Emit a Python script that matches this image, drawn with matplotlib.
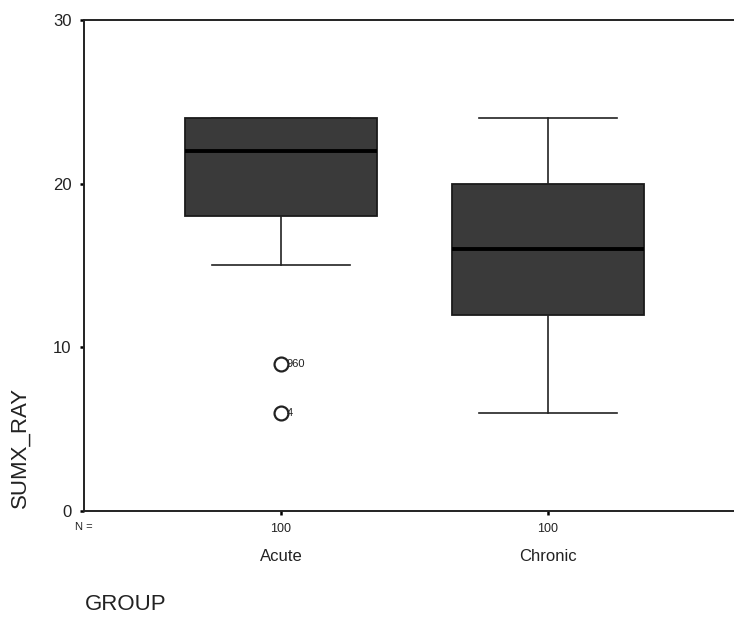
import matplotlib
matplotlib.use('Agg')
import matplotlib.pyplot as plt
import matplotlib.transforms as mtransforms

plt.rcParams['font.family'] = ['Liberation Sans', 'DejaVu Sans']

# values
groups = ['Acute', 'Chronic']
n_counts = [100, 100]
whislo = [15, 6]
q1 = [18, 12]
medians = [22, 16]
q3 = [24, 20]
whishi = [24, 24]
outliers = [[9, 6], []]
outlier_labels = [['960', '4'], []]

stats = []
for i, g in enumerate(groups):
    stats.append({'label': g, 'whislo': whislo[i], 'q1': q1[i], 'med': medians[i],
                  'q3': q3[i], 'whishi': whishi[i], 'fliers': outliers[i]})

fig = plt.figure(figsize=(7.34, 6.17), dpi=100)
ax = fig.add_axes([0.1144, 0.1718, 0.8856, 0.7958])

pos = [1, 2]
bp = ax.bxp(stats, positions=pos, widths=0.72, patch_artist=True, showfliers=True,
            boxprops=dict(facecolor='#3a3a3a', edgecolor='#1a1a1a', linewidth=1.3),
            medianprops=dict(color='black', linewidth=2.8),
            whiskerprops=dict(color='#222222', linewidth=1.2),
            capprops=dict(color='#222222', linewidth=1.2),
            capwidths=0.52,
            flierprops=dict(marker='o', markerfacecolor='white', markeredgecolor='#222222',
                            markersize=10, markeredgewidth=1.6))

for i, vals in enumerate(outliers):
    for v, lab in zip(vals, outlier_labels[i]):
        ax.annotate(lab, (pos[i], v), xytext=(4, 0), textcoords='offset points',
                    fontsize=8, va='center', ha='left', color='#222222')

ax.set_xlim(0.262, 2.697)
ax.set_ylim(0, 30)
ax.set_yticks([0, 10, 20, 30])
ax.tick_params(axis='y', labelsize=12, length=3, width=1.8, direction='out', pad=6,
               labelcolor='#222222')
ax.set_xticks(pos)
ax.set_xticklabels([str(n) for n in n_counts])
ax.tick_params(axis='x', labelsize=9, length=3, width=1.8, direction='out', pad=6,
               labelcolor='#222222')

ax.spines['right'].set_visible(False)
for s in ['left', 'top', 'bottom']:
    ax.spines[s].set_linewidth(1.4)
    ax.spines[s].set_color('#222222')

# y label sits low on the left, as in the original
fig.text(20 / 734, (617 - 447) / 617, 'SUMX_RAY', fontsize=16, rotation=90,
         ha='center', va='center', color='#222222')

trans = mtransforms.blended_transform_factory(ax.transData, ax.transAxes)
ax.text(0.0, -0.022, 'N =', transform=ax.transAxes, fontsize=8, ha='center', va='top',
        color='#222222')
for p, g in zip(pos, groups):
    ax.text(p, -0.078, g, transform=trans, fontsize=12, ha='center', va='top',
            color='#222222')

fig.text(85 / 734, 2 / 617, 'GROUP', fontsize=16, ha='left', va='bottom', color='#222222')

fig.savefig('out.png', dpi=100)
